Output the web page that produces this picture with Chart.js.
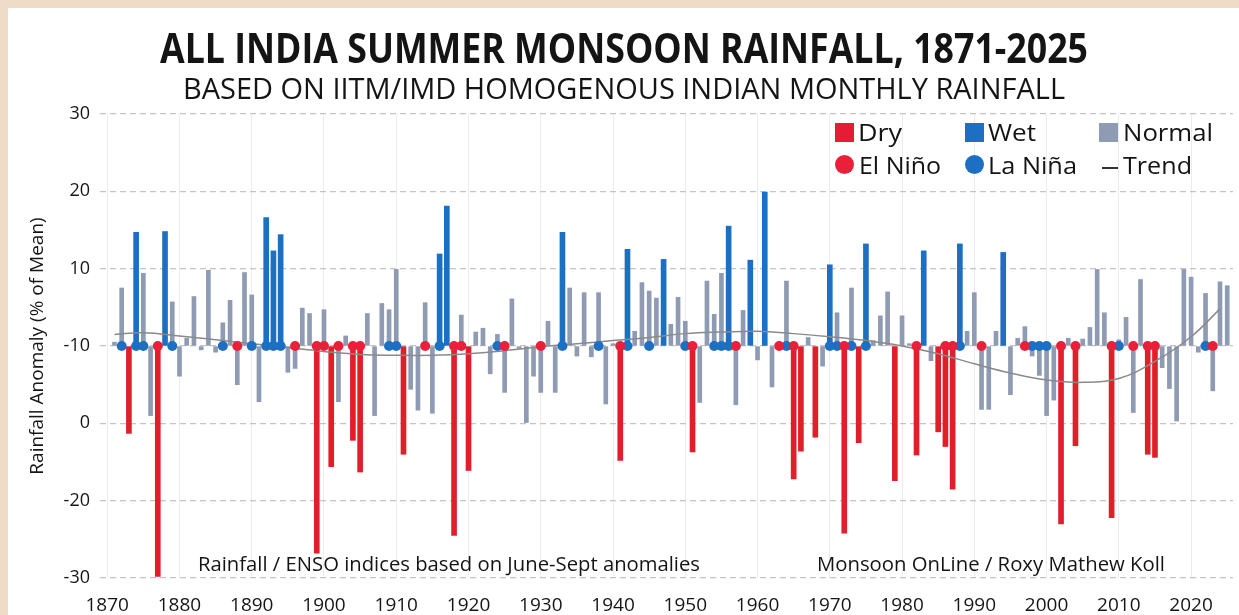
<!DOCTYPE html>
<html>
<head>
<meta charset="utf-8">
<script src="https://cdn.jsdelivr.net/npm/chart.js@4.4.1/dist/chart.umd.min.js"></script>
<style>
  html, body { margin: 0; padding: 0; }
  body { width: 1239px; height: 615px; background: #efdcc8; overflow: hidden; position: relative; font-family: "Open Sans", sans-serif; color: #141414; }
  #panel { position: absolute; left: 8px; top: 8px; width: 1231px; height: 607px; background: #fff; }
  #wrap { position: absolute; left: 0; top: 0; width: 1239px; height: 615px; }
  .txt { position: absolute; white-space: nowrap; line-height: 1; transform-origin: 0 0; }
  .sq { position: absolute; width: 19px; height: 19px; }
  .dot { position: absolute; width: 19px; height: 19px; border-radius: 50%; }
</style>
</head>
<body>
<div id="panel"></div>
<div id="wrap"><canvas id="rainChart"></canvas></div>

<div class="txt fit" data-w="928" style="left:160px; top:26px; font-size:42px; font-weight:700;">ALL INDIA SUMMER MONSOON RAINFALL, 1871-2025</div>
<div class="txt fit" data-w="882" style="left:183px; top:73px; font-size:29px;">BASED ON IITM/IMD HOMOGENOUS INDIAN MONTHLY RAINFALL</div>

<!-- legend -->
<div class="sq" style="left:835px; top:123px; background:#e41d34;"></div>
<div class="txt fit" data-w="44" style="left:858px; top:120px; font-size:24px;">Dry</div>
<div class="sq" style="left:965px; top:123px; background:#1c6fc2;"></div>
<div class="txt fit" data-w="48" style="left:988px; top:120px; font-size:24px;">Wet</div>
<div class="sq" style="left:1099px; top:123px; background:#8e9bb2;"></div>
<div class="txt fit" data-w="90" style="left:1123px; top:120px; font-size:24px;">Normal</div>
<div class="dot" style="left:835px; top:155px; background:#e8203a;"></div>
<div class="txt fit" data-w="82" style="left:859px; top:153px; font-size:24px;">El Niño</div>
<div class="dot" style="left:965px; top:155px; background:#1c6fc2;"></div>
<div class="txt fit" data-w="89" style="left:988px; top:153px; font-size:24px;">La Niña</div>
<div style="position:absolute; left:1102px; top:167px; width:16px; height:1.5px; background:#333;"></div>
<div class="txt fit" data-w="69" style="left:1123px; top:153px; font-size:24px;">Trend</div>

<div class="txt fit" data-w="502" style="left:198px; top:554px; font-size:20px;">Rainfall / ENSO indices based on June-Sept anomalies</div>
<div class="txt fit" data-w="348" style="left:817px; top:554px; font-size:20px;">Monsoon OnLine / Roxy Mathew Koll</div>

<script>
// ปีแรกของข้อมูล
const firstYear = 1871;

// anomaly (% of mean), 10 years per row
const anomalies = [
  0.5, 7.5, -11.3, 14.7, 9.4, -9.0, -29.8, 14.8, 5.7, -3.9,       // 1871-1880
  1.0, 6.4, -0.5, 9.8, -0.8, 3.0, 5.9, -5.0, 9.5, 6.6,            // 1881-1890
  -7.2, 16.6, 12.3, 14.4, -3.4, -2.9, 4.9, 4.2, -26.8, 4.7,       // 1891-1900
  -15.6, -7.2, 1.3, -12.2, -16.3, 4.2, -9.0, 5.5, 4.7, 9.9,       // 1901-1910
  -14.0, -5.6, -8.3, 5.6, -8.7, 11.9, 18.1, -24.5, 4.0, -16.1,    // 1911-1920
  1.8, 2.3, -3.6, 1.5, -6.0, 6.1, -0.3, -9.9, -3.9, -6.0,         // 1921-1930
  3.2, -6.0, 14.7, 7.5, -1.3, 6.9, -1.4, 6.9, -7.5, 0.3,          // 1931-1940
  -14.8, 12.5, 1.9, 8.2, 7.1, 6.2, 11.2, 2.8, 6.3, 3.2,           // 1941-1950
  -13.7, -7.3, 8.4, 4.1, 9.4, 15.5, -7.6, 4.6, 11.1, -1.8,        // 1951-1960
  19.9, -5.3, -0.4, 8.4, -17.2, -13.6, 1.1, -11.8, -2.6, 10.5,    // 1961-1970
  4.3, -24.2, 7.5, -12.5, 13.2, 0.7, 3.9, 7.0, -17.4, 3.9,        // 1971-1980
  0.3, -14.1, 12.3, -1.9, -11.1, -13.0, -18.5, 13.2, 1.9, 6.9,    // 1981-1990
  -8.2, -8.2, 1.9, 12.1, -6.3, 1.0, 2.5, -1.3, -3.8, -9.0,        // 1991-2000
  -7.0, -23.0, 1.0, -12.9, 0.9, 2.4, 9.9, 4.3, -22.2, 0.8,        // 2001-2010
  3.7, -8.6, 8.6, -14.0, -14.4, -2.8, -5.5, -9.7, 9.9, 8.9,       // 2011-2020
  -0.8, 6.8, -5.8, 8.3, 7.8                                       // 2021-2025
];

const dryYears = [1873, 1877, 1899, 1901, 1904, 1905, 1911, 1918, 1920, 1941, 1951, 1965, 1966,
  1968, 1972, 1974, 1979, 1982, 1985, 1986, 1987, 2002, 2004, 2009, 2014, 2015];
const wetYears = [1874, 1878, 1892, 1893, 1894, 1916, 1917, 1933, 1942, 1947, 1956, 1959, 1961,
  1970, 1975, 1983, 1988, 1994];

const elNinoYears = [1877, 1888, 1896, 1899, 1900, 1902, 1904, 1905, 1914, 1918, 1919, 1925, 1930,
  1941, 1951, 1957, 1963, 1965, 1972, 1982, 1986, 1987, 1991, 1997, 2002, 2004, 2009, 2012,
  2014, 2015, 2023];
const laNinaYears = [1872, 1874, 1875, 1879, 1886, 1890, 1892, 1893, 1894, 1909, 1910, 1916, 1924,
  1933, 1938, 1942, 1945, 1950, 1954, 1955, 1956, 1964, 1970, 1971, 1973, 1975, 1988, 1998,
  1999, 2000, 2010, 2022];

// trend curve
const trendYears = [1871, 1875, 1880, 1885, 1890, 1895, 1900, 1905, 1910, 1915, 1920, 1925, 1930,
  1935, 1940, 1945, 1950, 1955, 1960, 1965, 1970, 1975, 1980, 1985, 1990, 1995, 2000, 2005,
  2010, 2015, 2020, 2024];
const trendValues = [1.5, 1.7, 1.3, 0.8, 0.3, -0.2, -0.7, -1.1, -1.2, -1.2, -1.0, -0.6, -0.1,
  0.3, 0.7, 1.1, 1.6, 1.8, 1.9, 1.6, 1.2, 0.7, 0.0, -1.0, -2.3, -3.5, -4.4, -4.7,
  -4.2, -2.0, 1.2, 4.8];

const xTickYears = [1870, 1880, 1890, 1900, 1910, 1920, 1930, 1940, 1950, 1960, 1970, 1980, 1990, 2000, 2010, 2020];
const yTickValues = [30, 20, 10, 0, -10, -20, -30];
const yTickLabels = ['30', '20', '10', '-10', '0', '-20', '-30'];   // as printed on the original

const ensoLevel = 0;

const years = anomalies.map((v, i) => firstYear + i);

function barPoints(keep) {
  return years.map((yr, i) => ({ x: yr, y: anomalies[i] })).filter(p => keep(p.x));
}
function ensoPoints(list) {
  return list.map(yr => ({ x: yr, y: ensoLevel }));
}

const drySet = new Set(dryYears);
const wetSet = new Set(wetYears);

function fitTexts() {
  document.querySelectorAll('.fit').forEach(el => {
    el.style.transform = '';
    const w = el.getBoundingClientRect().width;
    el.style.transform = 'scaleX(' + (parseFloat(el.dataset.w) / w) + ')';
  });
}

function initChart() {
  const ctx = document.getElementById('rainChart').getContext('2d');
  const tickFont = { family: 'Open Sans', size: 18 };

  new Chart(ctx, {
    type: 'bar',
    data: {
      datasets: [
        {
          type: 'line', label: 'El Niño', data: ensoPoints(elNinoYears), showLine: false,
          pointRadius: 5, pointBackgroundColor: '#e8203a', pointBorderWidth: 0, order: 0
        },
        {
          type: 'line', label: 'La Niña', data: ensoPoints(laNinaYears), showLine: false,
          pointRadius: 5, pointBackgroundColor: '#1c6fc2', pointBorderWidth: 0, order: 0
        },
        {
          type: 'line', label: 'Trend', data: trendYears.map((yr, i) => ({ x: yr, y: trendValues[i] })),
          borderColor: '#8a8a8a', borderWidth: 1.5, pointRadius: 0, tension: 0.4, order: 1
        },
        {
          label: 'Dry', data: barPoints(yr => drySet.has(yr)), backgroundColor: '#e11f2b',
          barThickness: 5, grouped: false, order: 2
        },
        {
          label: 'Wet', data: barPoints(yr => wetSet.has(yr)), backgroundColor: '#1c6fc2',
          barThickness: 5, grouped: false, order: 2
        },
        {
          label: 'Normal', data: barPoints(yr => !drySet.has(yr) && !wetSet.has(yr)), backgroundColor: '#8e9bb2',
          barThickness: 4, grouped: false, order: 2
        }
      ]
    },
    options: {
      responsive: true,
      maintainAspectRatio: false,
      animation: false,
      layout: { padding: { top: 114, right: 6, left: 0, bottom: 0 } },
      plugins: { legend: { display: false }, tooltip: { enabled: false } },
      scales: {
        x: {
          type: 'linear', min: 1869, max: 2025.8, offset: false,
          afterBuildTicks: s => { s.ticks = xTickYears.map(v => ({ value: v })); },
          afterFit: s => { s.height = 37; },
          ticks: { callback: v => String(v), font: { family: 'Open Sans', size: 19 }, color: '#161616', padding: 16, autoSkip: false, maxRotation: 0 },
          grid: { color: '#ececec', lineWidth: 1, drawTicks: false, offset: false },
          border: { display: false }
        },
        y: {
          min: -30, max: 30,
          afterBuildTicks: s => { s.ticks = yTickValues.map(v => ({ value: v })); },
          afterFit: s => { s.width = 100; },
          ticks: { callback: v => yTickLabels[yTickValues.indexOf(v)], font: tickFont, color: '#161616', padding: 10 },
          grid: { color: '#c4c4c4', lineWidth: 1.3, drawTicks: false },
          border: { display: false, dash: [6, 4] },
          title: {
            display: true, text: 'Rainfall Anomaly (% of Mean)',
            font: { family: 'Open Sans', size: 19 }, color: '#161616', padding: { top: 26, bottom: 0 }
          }
        }
      }
    }
  });
}

fitTexts();
initChart();
</script>
</body>
</html>
